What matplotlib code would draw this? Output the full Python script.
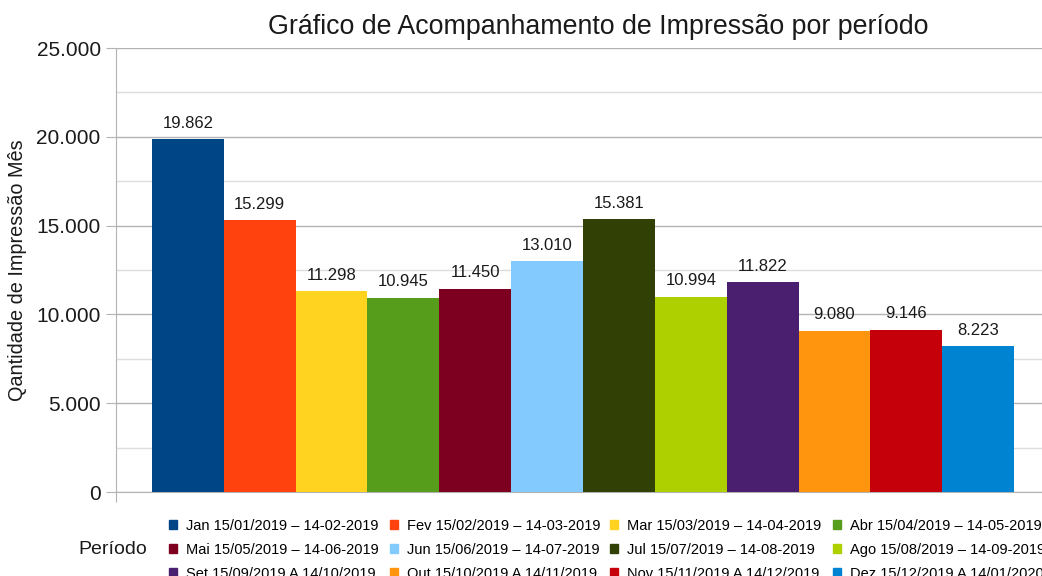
import matplotlib
matplotlib.use("Agg")
import matplotlib.pyplot as plt
from matplotlib.patches import Patch
from matplotlib.ticker import MultipleLocator, FuncFormatter

plt.rcParams['font.family'] = ['Liberation Sans', 'DejaVu Sans']

# data
periodos = ["Jan 15/01/2019 – 14-02-2019", "Fev 15/02/2019 – 14-03-2019",
            "Mar 15/03/2019 – 14-04-2019", "Abr 15/04/2019 – 14-05-2019",
            "Mai 15/05/2019 – 14-06-2019", "Jun 15/06/2019 – 14-07-2019",
            "Jul 15/07/2019 – 14-08-2019", "Ago 15/08/2019 – 14-09-2019",
            "Set 15/09/2019 A 14/10/2019", "Out 15/10/2019 A 14/11/2019",
            "Nov 15/11/2019 A 14/12/2019", "Dez 15/12/2019 A 14/01/2020"]
impressoes = [19862, 15299, 11298, 10945, 11450, 13010,
              15381, 10994, 11822, 9080, 9146, 8223]
cores = ["#004586", "#ff420e", "#ffd320", "#579d1c", "#7e0021", "#83caff",
         "#314004", "#aecf00", "#4b1f6f", "#ff950e", "#c5000b", "#0084d1"]

W, H = 1042, 576
fig = plt.figure(figsize=(W / 100, H / 100), dpi=100)
# plot area in pixels: left 116, right 1050, top 48, bottom 492
ax = fig.add_axes([116 / W, (H - 492) / H, (1050 - 116) / W, (492 - 48) / H])

def fmt(v, pos=None):
    return f"{int(v):,}".replace(",", ".")

xs = list(range(len(impressoes)))
bars = ax.bar(xs, impressoes, width=1.0, color=cores, zorder=3)
for x, v in zip(xs, impressoes):
    ax.annotate(fmt(v), (x, v), xytext=(0, 6), textcoords="offset points",
                ha="center", va="bottom", fontsize=12, color="#1a1a1a")

ax.set_xlim(-1.0, 12.0)
ax.set_ylim(0, 25000)
ax.yaxis.set_major_locator(MultipleLocator(5000))
ax.yaxis.set_minor_locator(MultipleLocator(2500))
ax.yaxis.set_major_formatter(FuncFormatter(fmt))
ax.grid(axis="y", which="major", color="#b3b3b3", lw=1, zorder=0)
ax.grid(axis="y", which="minor", color="#dddddd", lw=1, zorder=0)
ax.set_xticks([-1.0])
ax.set_xticklabels([""])
ax.tick_params(axis="x", length=7, color="#b3b3b3")
ax.tick_params(axis="y", which="major", length=7, color="#b3b3b3",
               labelsize=15, labelcolor="#1a1a1a", pad=4)
ax.tick_params(axis="y", which="minor", length=0)
for s in ["top", "right"]:
    ax.spines[s].set_visible(False)
for s in ["left", "bottom"]:
    ax.spines[s].set_color("#b3b3b3")

fig.text(18 / W, 1 - 270 / H, "Qantidade de Impressão Mês", rotation=90,
         ha="center", va="center", fontsize=14.3, color="#1a1a1a")
fig.text(598 / W, 1 - 27 / H, "Gráfico de Acompanhamento de Impressão por período",
         ha="center", va="center", fontsize=19.3, color="#1a1a1a")
fig.text(113 / W, 1 - 549 / H, "Período", ha="center", va="center",
         fontsize=14, color="#1a1a1a")

# legend: 4 columns, filled row by row (one legend per column)
handles = [Patch(color=c) for c in cores]
col_x = [169, 390, 610, 833]
for c, x0 in enumerate(col_x):
    idx = [c, c + 4, c + 8]
    leg = fig.legend([handles[i] for i in idx], [periodos[i] for i in idx],
                     loc="upper left", bbox_to_anchor=(x0 / W, 1 - 519 / H),
                     frameon=False, fontsize=10.5, handlelength=0.55,
                     handleheight=0.55, handletextpad=0.6, labelspacing=0.68,
                     borderpad=0, borderaxespad=0)

fig.savefig("out.png", dpi=100)
